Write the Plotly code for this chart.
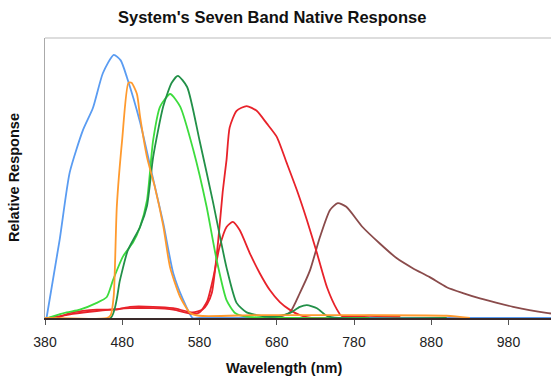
import plotly.graph_objects as go

# Wavelengths (nm) and relative responses for each band
blue_x = [382, 399, 412, 429, 442, 455, 469, 478, 486, 503, 518, 533, 546, 559, 571, 580, 700, 900, 1035]
blue_y = [0, 0.28, 0.52, 0.67, 0.75, 0.875, 0.94, 0.92, 0.86, 0.70, 0.52, 0.34, 0.16, 0.064, 0.0, 0, 0, 0, 0]

orange_x = [380, 460, 465, 469, 473, 480, 488, 492, 499, 503, 512, 522, 533, 542, 555, 568, 580, 650, 700, 800, 900, 930]
orange_y = [0, 0, 0.01, 0.08, 0.40, 0.64, 0.84, 0.84, 0.80, 0.72, 0.575, 0.47, 0.33, 0.18, 0.075, 0.018, 0.008, 0.01, 0.01, 0.01, 0.008, 0]

lime_x = [383, 408, 425, 447, 460, 468, 481, 494, 503, 512, 520, 529, 542, 555, 572, 589, 602, 615, 626, 640, 700, 800]
lime_y = [0, 0.02, 0.03, 0.054, 0.075, 0.135, 0.22, 0.27, 0.325, 0.42, 0.635, 0.755, 0.80, 0.755, 0.60, 0.40, 0.21, 0.064, 0.018, 0.005, 0, 0]

dgreen_x = [380, 465, 477, 487, 503, 512, 520, 533, 544, 552, 564, 580, 597, 615, 628, 641, 667, 685, 697, 710, 719, 732, 745, 760, 900]
dgreen_y = [0, 0, 0.135, 0.24, 0.325, 0.40, 0.575, 0.755, 0.84, 0.865, 0.825, 0.635, 0.42, 0.18, 0.054, 0.02, 0.005, 0.008, 0.018, 0.04, 0.046, 0.035, 0.007, 0, 0]

red1_x = [395, 416, 447, 473, 490, 520, 546, 571, 584, 590, 596, 604, 610, 615, 619, 628, 641, 654, 667, 680, 693, 706, 719, 732, 745, 758, 764, 800, 840]
red1_y = [0, 0.02, 0.03, 0.03, 0.04, 0.04, 0.035, 0.02, 0.03, 0.05, 0.09, 0.27, 0.45, 0.565, 0.68, 0.74, 0.757, 0.74, 0.695, 0.647, 0.553, 0.457, 0.35, 0.232, 0.11, 0.03, 0.007, 0.008, 0.005]

red2_x = [385, 416, 447, 490, 520, 546, 571, 580, 590, 598, 606, 615, 623, 632, 645, 658, 671, 684, 697, 710, 725, 760]
red2_y = [0, 0.015, 0.025, 0.035, 0.035, 0.03, 0.015, 0.02, 0.06, 0.146, 0.254, 0.325, 0.343, 0.314, 0.232, 0.16, 0.10, 0.057, 0.029, 0.01, 0, 0]

brown_x = [660, 684, 697, 710, 723, 736, 749, 759, 770, 791, 813, 835, 856, 878, 900, 921, 943, 965, 986, 1007, 1029, 1035]
brown_y = [0, 0.005, 0.02, 0.09, 0.17, 0.29, 0.386, 0.41, 0.397, 0.325, 0.267, 0.214, 0.178, 0.146, 0.11, 0.089, 0.07, 0.054, 0.04, 0.028, 0.018, 0.016]

x_ticks = [380, 480, 580, 680, 780, 880, 980]

series = [
    (brown_x, brown_y, "#8a4b4b"),
    (blue_x, blue_y, "#5a9cf2"),
    (red2_x, red2_y, "#e8222a"),
    (red1_x, red1_y, "#e8222a"),
    (lime_x, lime_y, "#3ddc3d"),
    (dgreen_x, dgreen_y, "#229048"),
    (orange_x, orange_y, "#ff9a2e"),
]

W, H = 551, 376
fig = go.Figure()
for xs, ys, c in series:
    fig.add_trace(go.Scatter(x=xs, y=ys, mode="lines",
                             line=dict(color=c, width=1.8, shape="spline", smoothing=0.6),
                             showlegend=False, hoverinfo="skip"))

fig.update_layout(
    width=W, height=H,
    margin=dict(l=45, r=0, t=38, b=58, autoexpand=False),
    paper_bgcolor="white", plot_bgcolor="white",
    font=dict(family="Liberation Sans, Arial, sans-serif", color="#111"),
    xaxis=dict(range=[380, 1035], tickvals=x_ticks, ticks="outside", ticklen=5, tickcolor="#555",
               showgrid=False, zeroline=False, showline=True, linecolor="#3a2a2a", linewidth=1.5,
               tickfont=dict(size=14, color="#222"), ticklabelstandoff=6, automargin=False),
    yaxis=dict(range=[0, 1], showticklabels=False, ticks="", showgrid=False, zeroline=False,
               showline=True, linecolor="#aaaaaa", linewidth=1, automargin=False),
    shapes=[dict(type="line", xref="paper", yref="paper", x0=0, x1=1, y0=1, y1=1,
                 line=dict(color="#bbbbbb", width=1))],
    annotations=[
        dict(text="<b>System's Seven Band Native Response</b>", xref="paper", yref="paper",
             x=(272 - 45) / (W - 45), y=1 + (38 - 17) / 280, xanchor="center", yanchor="middle",
             showarrow=False, font=dict(size=16.5, color="#111")),
        dict(text="<b>Wavelength (nm)</b>", xref="paper", yref="paper",
             x=(284 - 45) / (W - 45), y=-(368 - 318) / 280, xanchor="center", yanchor="middle",
             showarrow=False, font=dict(size=14.5, color="#111")),
        dict(text="<b>Relative Response</b>", xref="paper", yref="paper", textangle=-90,
             x=-(45 - 14) / (W - 45), y=(318 - 178) / 280, xanchor="center", yanchor="middle",
             showarrow=False, font=dict(size=14.5, color="#111")),
    ],
)

fig.write_html("out.html", config={"displayModeBar": False, "staticPlot": True},
               post_script="document.body.style.margin='0';document.body.style.overflow='hidden';")
